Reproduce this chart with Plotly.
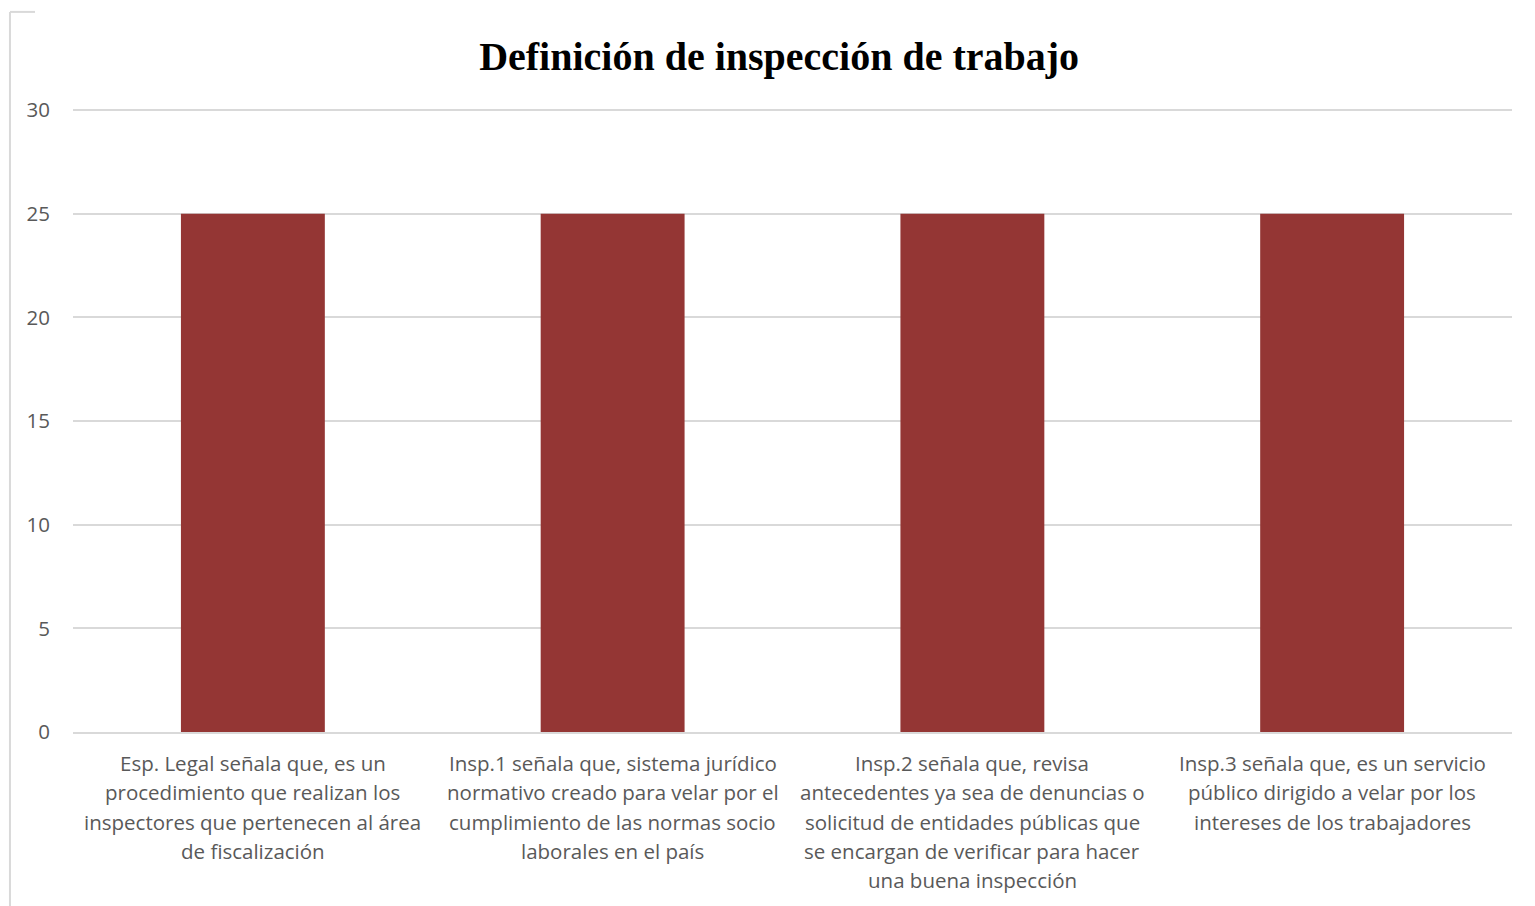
import plotly.graph_objects as go

category_lines = [
    ["Esp. Legal señala que, es un", "procedimiento que realizan los",
     "inspectores que pertenecen al área", "de fiscalización"],
    ["Insp.1 señala que, sistema jurídico", "normativo creado para velar por el",
     "cumplimiento de las normas socio", "laborales en el país"],
    ["Insp.2 señala que, revisa", "antecedentes ya sea de denuncias o",
     "solicitud de entidades públicas que", "se encargan de verificar para hacer",
     "una buena inspección"],
    ["Insp.3 señala que, es un servicio", "público dirigido a velar por los",
     "intereses de los trabajadores"],
]
values = [25, 25, 25, 25]
y_ticks = [0, 5, 10, 15, 20, 25, 30]

xs = list(range(len(category_lines)))

fig = go.Figure()
fig.add_trace(go.Bar(x=xs, y=values, marker_color="#943634",
                     marker_line_width=0, hoverinfo="y"))

# multi-line category labels (one annotation per line for Excel-like spacing)
for i, lines in enumerate(category_lines):
    for k, line in enumerate(lines):
        fig.add_annotation(x=i, y=0, xref="x", yref="y", text=line, showarrow=False,
                           xanchor="center", yanchor="middle",
                           yshift=-(31 + 29.3 * k),
                           font=dict(family="Open Sans, Lato, sans-serif", size=20.5, color="#595959"))

fig.update_layout(
    width=1527, height=898,
    margin=dict(l=65, r=23, t=100, b=174),
    paper_bgcolor="white", plot_bgcolor="white",
    bargap=0.6,
    showlegend=False,
    title=dict(text="<b>Definición de inspección de trabajo</b>",
               font=dict(family="Liberation Serif, DejaVu Serif, serif", size=40, color="black"),
               x=0.505, xanchor="center", y=0.947, yanchor="middle"),
    font=dict(family="Open Sans, Lato, sans-serif", size=20, color="#595959"),
)
fig.update_xaxes(
    tickmode="array", tickvals=xs, ticktext=[""] * len(xs),
    range=[-0.5, 3.5], showgrid=False, showline=True, linecolor="#d9d9d9", linewidth=2,
    ticks="", fixedrange=True,
)
fig.update_yaxes(
    range=[0, 30.1], tickvals=y_ticks, showgrid=True, gridcolor="#d9d9d9", gridwidth=2,
    zeroline=False, showline=False, ticks="", ticklabelstandoff=22,
    tickfont=dict(size=20.5, color="#595959"), fixedrange=True,
)
# chart-area border fragments
fig.add_shape(type="line", xref="paper", yref="paper", x0=-0.0438, x1=-0.0438, y0=1.154, y1=-0.3,
              line=dict(color="#d9d9d9", width=2))
fig.add_shape(type="line", xref="paper", yref="paper", x0=-0.0438, x1=-0.0264, y0=1.154, y1=1.154,
              line=dict(color="#d9d9d9", width=2))

fig.write_html("out.html")
